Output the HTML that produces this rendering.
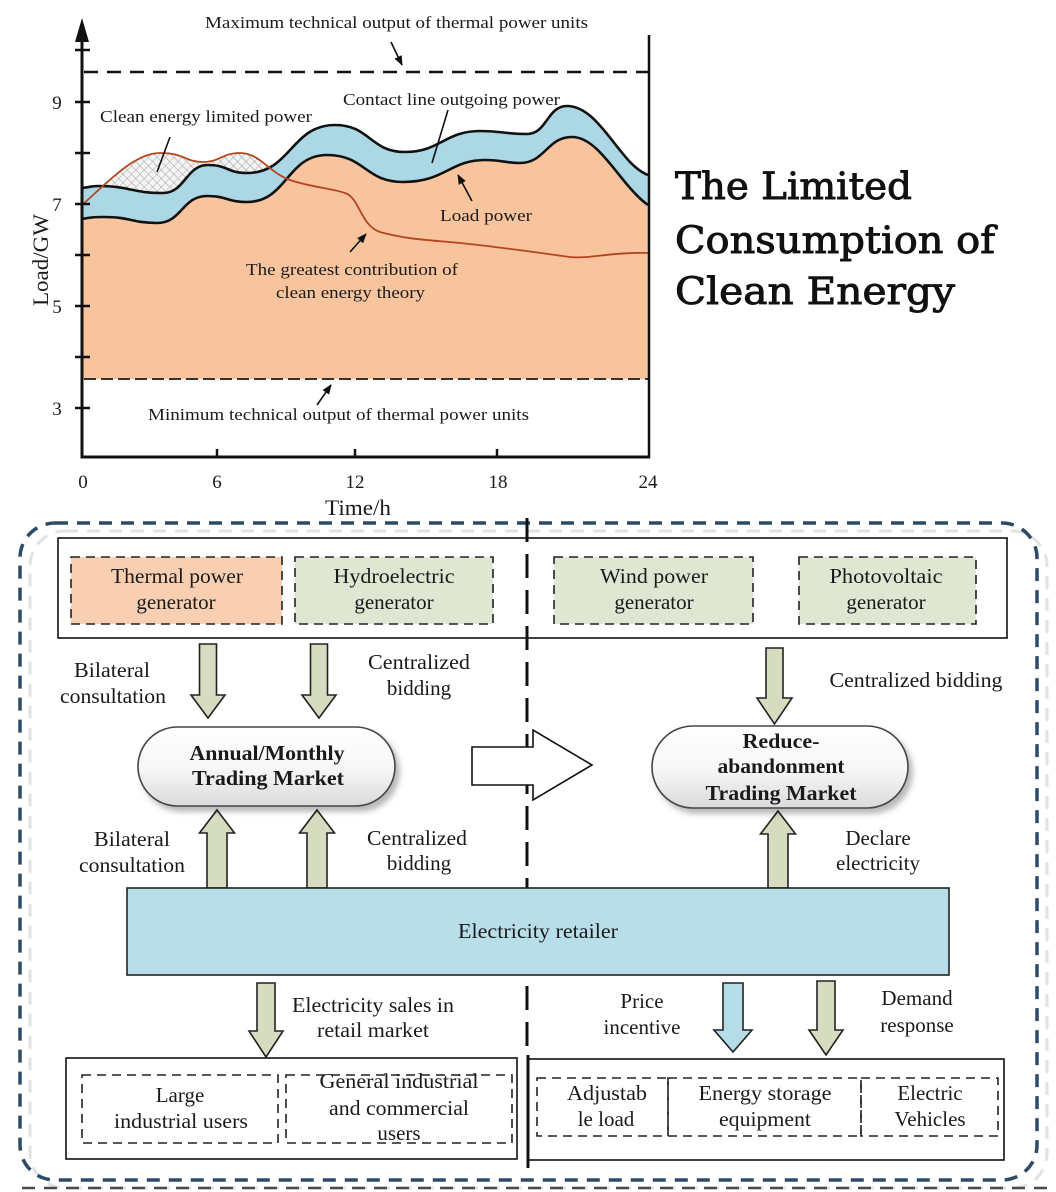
<!DOCTYPE html>
<html>
<head>
<meta charset="utf-8">
<style>
  html,body{margin:0;padding:0;background:#fff;}
  svg{display:block;}
  .t{font-family:"Liberation Serif","DejaVu Serif",serif;fill:#1a1a1a;}
</style>
</head>
<body>
<svg width="1056" height="1192" viewBox="0 0 1056 1192" xmlns="http://www.w3.org/2000/svg">
  <defs>
    <pattern id="hatch" width="6" height="6" patternUnits="userSpaceOnUse" patternTransform="rotate(45)">
      <rect width="6" height="6" fill="#f4f4f4"/>
      <path d="M0,0 L0,6 M0,0 L6,0" stroke="#9a9a9a" stroke-width="0.9"/>
    </pattern>
    <clipPath id="aboveTop">
      <path d="M82,188 C90,187 92,186 98,186 C130,186 131,193 163,193 C185,193 186,165 208,165 C228,165 227,173 247,173 C291,173 291,125 335,125 C370,125 370,152 405,152 C440,152 445,131 480,131 C503,131 504,134 527,134 C547,134 547,106 567,106 C600,106 620,165 648,175 L648,0 L82,0 Z"/>
    </clipPath>
    <marker id="ah" markerWidth="10" markerHeight="8" refX="9" refY="4" orient="auto" markerUnits="userSpaceOnUse">
      <path d="M0,0 L10,4 L0,8 z" fill="#111"/>
    </marker>
    <linearGradient id="pill" x1="0" y1="0" x2="0" y2="1">
      <stop offset="0" stop-color="#ffffff"/>
      <stop offset="0.55" stop-color="#f6f6f6"/>
      <stop offset="1" stop-color="#dadada"/>
    </linearGradient>
    <filter id="sh" x="-10%" y="-10%" width="130%" height="140%">
      <feDropShadow dx="4" dy="5" stdDeviation="3" flood-color="#000" flood-opacity="0.28"/>
    </filter>
  </defs>

  <!-- ================= CHART ================= -->
  <path d="M82,188 C90,187 92,186 98,186 C130,186 131,193 163,193 C185,193 186,165 208,165 C228,165 227,173 247,173 C291,173 291,125 335,125 C370,125 370,152 405,152 C440,152 445,131 480,131 C503,131 504,134 527,134 C547,134 547,106 567,106 C600,106 620,165 648,175 L648,379 L82,379 Z" fill="#acd7e5"/>
  <path d="M82,219 C92,217 97,217 104,217 C130,217 133,223 157,223 C182,223 182,196 207,196 C227,196 227,202 247,202 C287,202 287,155 327,155 C365,155 365,182 403,182 C445,182 450,160 485,160 C502,160 505,163 520,163 C545,163 547,137 572,137 C600,137 620,185 648,205 L648,379 L82,379 Z" fill="#f8c49d"/>
  <path clip-path="url(#aboveTop)" d="M82,205 C110,180 135,153 160,153 C185,153 185,162 203,162 C220,162 222,153 240,153 C260,153 268,172 290,180 C310,187 330,188 345,193 C360,198 360,225 380,232 C410,240 430,240 460,243 C500,247 540,253 570,257 C590,259 610,252 648,253 L648,460 L82,460 Z" fill="url(#hatch)"/>
  <path d="M82,188 C90,187 92,186 98,186 C130,186 131,193 163,193 C185,193 186,165 208,165 C228,165 227,173 247,173 C291,173 291,125 335,125 C370,125 370,152 405,152 C440,152 445,131 480,131 C503,131 504,134 527,134 C547,134 547,106 567,106 C600,106 620,165 648,175" fill="none" stroke="#111" stroke-width="2.6"/>
  <path d="M82,219 C92,217 97,217 104,217 C130,217 133,223 157,223 C182,223 182,196 207,196 C227,196 227,202 247,202 C287,202 287,155 327,155 C365,155 365,182 403,182 C445,182 450,160 485,160 C502,160 505,163 520,163 C545,163 547,137 572,137 C600,137 620,185 648,205" fill="none" stroke="#111" stroke-width="2.6"/>
  <path d="M82,205 C110,180 135,153 160,153 C185,153 185,162 203,162 C220,162 222,153 240,153 C260,153 268,172 290,180 C310,187 330,188 345,193 C360,198 360,225 380,232 C410,240 430,240 460,243 C500,247 540,253 570,257 C590,259 610,252 648,253" fill="none" stroke="#b4461f" stroke-width="1.8"/>

  <line x1="84" y1="72" x2="648" y2="72" stroke="#111" stroke-width="2.5" stroke-dasharray="14 9"/>
  <line x1="84" y1="379" x2="648" y2="379" stroke="#333" stroke-width="2" stroke-dasharray="12 5"/>

  <line x1="82" y1="40" x2="82" y2="458" stroke="#111" stroke-width="3"/>
  <path d="M82,18 L75,42 L89,42 Z" fill="#111"/>
  <line x1="80.5" y1="457" x2="650" y2="457" stroke="#111" stroke-width="3"/>
  <line x1="649" y1="35" x2="649" y2="458" stroke="#111" stroke-width="2.5"/>
  <g stroke="#111" stroke-width="2.5">
    <line x1="75" y1="50" x2="90" y2="50"/>
    <line x1="75" y1="102" x2="90" y2="102"/>
    <line x1="75" y1="153" x2="90" y2="153"/>
    <line x1="75" y1="204" x2="90" y2="204"/>
    <line x1="75" y1="255" x2="90" y2="255"/>
    <line x1="75" y1="306" x2="90" y2="306"/>
    <line x1="75" y1="357" x2="90" y2="357"/>
    <line x1="75" y1="408" x2="90" y2="408"/>
    <line x1="217" y1="449" x2="217" y2="457"/>
    <line x1="355" y1="449" x2="355" y2="457"/>
    <line x1="497" y1="449" x2="497" y2="457"/>
  </g>

  <g class="t" font-size="19" text-anchor="middle">
    <text x="57" y="109">9</text>
    <text x="57" y="211">7</text>
    <text x="57" y="313">5</text>
    <text x="57" y="415">3</text>
    <text x="83" y="488">0</text>
    <text x="217" y="488">6</text>
    <text x="355" y="488">12</text>
    <text x="498" y="488">18</text>
    <text x="648" y="488">24</text>
  </g>
  <text class="t" x="358" y="515" font-size="22" text-anchor="middle" textLength="66" lengthAdjust="spacingAndGlyphs">Time/h</text>
  <text class="t" font-size="22" text-anchor="middle" transform="translate(48,260) rotate(-90)" textLength="92" lengthAdjust="spacingAndGlyphs">Load/GW</text>

  <g class="t" font-size="17">
    <text x="205" y="28" textLength="383" lengthAdjust="spacingAndGlyphs">Maximum technical output of thermal power units</text>
    <text x="100" y="122" textLength="212" lengthAdjust="spacingAndGlyphs">Clean energy limited power</text>
    <text x="343" y="105" textLength="217" lengthAdjust="spacingAndGlyphs">Contact line outgoing power</text>
    <text x="440" y="221" textLength="92" lengthAdjust="spacingAndGlyphs">Load power</text>
    <text x="246" y="275" textLength="212" lengthAdjust="spacingAndGlyphs">The greatest contribution of</text>
    <text x="276" y="298" textLength="149" lengthAdjust="spacingAndGlyphs">clean energy theory</text>
    <text x="148" y="420" textLength="381" lengthAdjust="spacingAndGlyphs">Minimum technical output of thermal power units</text>
  </g>
  <g stroke="#111" stroke-width="1.6" fill="none">
    <line x1="391" y1="42" x2="402" y2="65" marker-end="url(#ah)"/>
    <line x1="170" y1="137" x2="157" y2="172"/>
    <line x1="448" y1="110" x2="432" y2="163"/>
    <line x1="472" y1="201" x2="458" y2="175" marker-end="url(#ah)"/>
    <line x1="350" y1="252" x2="366" y2="234" marker-end="url(#ah)"/>
    <line x1="317" y1="405" x2="331" y2="385" marker-end="url(#ah)"/>
  </g>

  <!-- Title -->
  <g font-family="DejaVu Serif, Liberation Serif, serif" font-size="37" fill="#111" stroke="#111" stroke-width="0.9">
    <text x="675" y="199" textLength="237" lengthAdjust="spacingAndGlyphs">The Limited</text>
    <text x="675" y="253" textLength="320" lengthAdjust="spacingAndGlyphs">Consumption of</text>
    <text x="675" y="304" textLength="280" lengthAdjust="spacingAndGlyphs">Clean Energy</text>
  </g>

  <!-- ================= BOTTOM DIAGRAM ================= -->
  <rect x="30" y="531" width="1017" height="657" rx="35" fill="none" stroke="#e2e2e2" stroke-width="3" stroke-dasharray="13 9"/>
  <line x1="22" y1="1188" x2="1056" y2="1188" stroke="#4a4a4a" stroke-width="2.5" stroke-dasharray="13 9"/>
  <rect x="20" y="523" width="1017" height="657" rx="35" fill="none" stroke="#2d4a66" stroke-width="3.5" stroke-dasharray="13 9"/>

  <rect x="58" y="538" width="949" height="100" fill="#fff" stroke="#111" stroke-width="1.6"/>
  <g stroke="#222" stroke-width="1.6" stroke-dasharray="9 6">
    <rect x="71" y="557" width="211" height="67" fill="#f9cfb1"/>
    <rect x="295" y="557" width="198" height="67" fill="#dfe6d2"/>
    <rect x="554" y="557" width="199" height="67" fill="#dfe6d2"/>
    <rect x="799" y="557" width="177" height="67" fill="#dfe6d2"/>
  </g>

  <line x1="527" y1="518" x2="527" y2="1052" stroke="#111" stroke-width="3" stroke-dasharray="24 12"/>

  <g class="t" font-size="21" text-anchor="middle">
    <text x="177" y="583" textLength="132" lengthAdjust="spacingAndGlyphs">Thermal power</text>
    <text x="176" y="609">generator</text>
    <text x="394" y="583" textLength="121" lengthAdjust="spacingAndGlyphs">Hydroelectric</text>
    <text x="394" y="609">generator</text>
    <text x="654" y="583" textLength="108" lengthAdjust="spacingAndGlyphs">Wind power</text>
    <text x="654" y="609">generator</text>
    <text x="886" y="583" textLength="113" lengthAdjust="spacingAndGlyphs">Photovoltaic</text>
    <text x="886" y="609">generator</text>

    <text x="112" y="677" textLength="76" lengthAdjust="spacingAndGlyphs">Bilateral</text>
    <text x="113" y="703" textLength="106" lengthAdjust="spacingAndGlyphs">consultation</text>
    <text x="419" y="669" textLength="102" lengthAdjust="spacingAndGlyphs">Centralized</text>
    <text x="419" y="695">bidding</text>
    <text x="916" y="687" textLength="173" lengthAdjust="spacingAndGlyphs">Centralized bidding</text>

    <text x="132" y="846" textLength="76" lengthAdjust="spacingAndGlyphs">Bilateral</text>
    <text x="132" y="872" textLength="106" lengthAdjust="spacingAndGlyphs">consultation</text>
    <text x="417" y="845" textLength="100" lengthAdjust="spacingAndGlyphs">Centralized</text>
    <text x="419" y="870">bidding</text>
    <text x="878" y="845">Declare</text>
    <text x="878" y="870">electricity</text>

    <text x="373" y="1012" textLength="162" lengthAdjust="spacingAndGlyphs">Electricity sales in</text>
    <text x="373" y="1037" textLength="112" lengthAdjust="spacingAndGlyphs">retail market</text>
    <text x="642" y="1008">Price</text>
    <text x="642" y="1034">incentive</text>
    <text x="917" y="1005">Demand</text>
    <text x="917" y="1032">response</text>
  </g>

  <g fill="#d6dcc0" stroke="#222" stroke-width="1.6" stroke-linejoin="miter">
    <path d="M199.5,644 L216.5,644 L216.5,695 L225,695 L208,718 L191,695 L199.5,695 Z"/>
    <path d="M310.5,644 L327.5,644 L327.5,695 L336,695 L319,718 L302,695 L310.5,695 Z"/>
    <path d="M766,648 L783,648 L783,698 L792,698 L774.5,724 L757,698 L766,698 Z"/>
    <path d="M217,810 L234.5,833 L227,833 L227,888 L207,888 L207,833 L199.5,833 Z"/>
    <path d="M317,810 L334.5,833 L327,833 L327,888 L307,888 L307,833 L299.5,833 Z"/>
    <path d="M778,811 L795.5,834 L788,834 L788,888 L768,888 L768,834 L760.5,834 Z"/>
    <path d="M257,983 L275,983 L275,1031 L283,1031 L266,1057 L249,1031 L257,1031 Z"/>
    <path d="M817,981 L835,981 L835,1030 L843,1030 L826,1055 L809,1030 L817,1030 Z"/>
  </g>
  <path d="M723,983 L743,983 L743,1030 L752,1030 L733,1052 L714,1030 L723,1030 Z" fill="#b5dde8" stroke="#222" stroke-width="1.6"/>

  <path d="M472,747 L533,747 L533,730 L592,765 L533,800 L533,785 L472,785 Z" fill="#fff" stroke="#111" stroke-width="1.6"/>

  <rect x="138" y="727" width="257" height="79" rx="39.5" fill="url(#pill)" stroke="#444" stroke-width="1.6" filter="url(#sh)"/>
  <rect x="652" y="726" width="256" height="82" rx="41" fill="url(#pill)" stroke="#444" stroke-width="1.6" filter="url(#sh)"/>
  <g class="t" font-size="21" font-weight="bold" text-anchor="middle">
    <text x="267" y="760" textLength="155" lengthAdjust="spacingAndGlyphs">Annual/Monthly</text>
    <text x="268" y="785" textLength="152" lengthAdjust="spacingAndGlyphs">Trading Market</text>
    <text x="781" y="748" textLength="77" lengthAdjust="spacingAndGlyphs">Reduce-</text>
    <text x="781" y="773" textLength="127" lengthAdjust="spacingAndGlyphs">abandonment</text>
    <text x="781" y="800" textLength="151" lengthAdjust="spacingAndGlyphs">Trading Market</text>
  </g>

  <rect x="127" y="888" width="822" height="87" fill="#b8dfe9" stroke="#222" stroke-width="1.6"/>
  <text class="t" x="538" y="938" font-size="21" text-anchor="middle" textLength="160" lengthAdjust="spacingAndGlyphs">Electricity retailer</text>

  <rect x="66" y="1058" width="451" height="101" fill="#fff" stroke="#111" stroke-width="1.6"/>
  <rect x="528" y="1059" width="476" height="101" fill="#fff" stroke="#111" stroke-width="1.6"/>
  <g fill="none" stroke="#222" stroke-width="1.6" stroke-dasharray="9 6">
    <rect x="82" y="1075" width="196" height="68"/>
    <rect x="286" y="1075" width="226" height="68"/>
    <rect x="537" y="1078" width="131" height="58"/>
    <rect x="668" y="1078" width="193" height="58"/>
    <rect x="861" y="1078" width="137" height="58"/>
  </g>
  <line x1="528" y1="1055" x2="528" y2="1168" stroke="#111" stroke-width="3"/>
  <g class="t" font-size="21" text-anchor="middle">
    <text x="180" y="1102">Large</text>
    <text x="181" y="1128" textLength="134" lengthAdjust="spacingAndGlyphs">industrial users</text>
    <text x="399" y="1088" textLength="159" lengthAdjust="spacingAndGlyphs">General industrial</text>
    <text x="399" y="1115" textLength="140" lengthAdjust="spacingAndGlyphs">and commercial</text>
    <text x="399" y="1140">users</text>
    <text x="607" y="1100" textLength="80" lengthAdjust="spacingAndGlyphs">Adjustab</text>
    <text x="606" y="1126">le load</text>
    <text x="765" y="1100" textLength="133" lengthAdjust="spacingAndGlyphs">Energy storage</text>
    <text x="765" y="1126" textLength="92" lengthAdjust="spacingAndGlyphs">equipment</text>
    <text x="930" y="1100">Electric</text>
    <text x="930" y="1126">Vehicles</text>
  </g>
</svg>
</body>
</html>
